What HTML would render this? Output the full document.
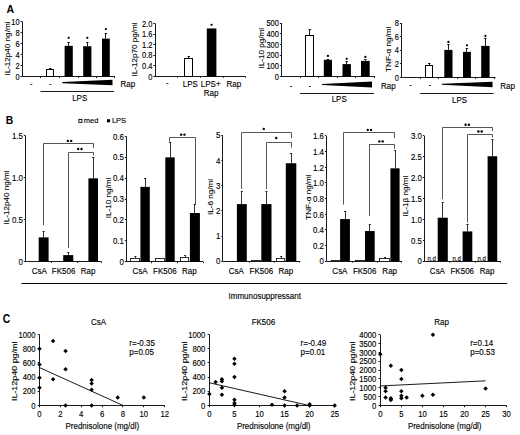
<!DOCTYPE html>
<html><head><meta charset="utf-8"><style>
html,body{margin:0;padding:0;background:#fff;width:520px;height:435px;overflow:hidden}
svg{display:block}
text{font-family:"Liberation Sans",sans-serif;fill:#000;stroke:#000;stroke-width:0.12px}
</style></head><body>
<svg width="520" height="435" viewBox="0 0 520 435">
<rect width="520" height="435" fill="#fff"/>
<text transform="translate(6.50,12.90) scale(1,1.07)" font-size="10.6" text-anchor="start" font-weight="bold"  style="stroke:none">A</text>
<line x1="22.50" y1="21.40" x2="22.50" y2="76.60" stroke="#000" stroke-width="0.9"/>
<line x1="20.60" y1="76.50" x2="22.20" y2="76.50" stroke="#000" stroke-width="0.9"/>
<text transform="translate(19.60,79.71) scale(1,1.16)" font-size="7.5" text-anchor="end" font-weight="normal" >0</text>
<line x1="20.60" y1="65.50" x2="22.20" y2="65.50" stroke="#000" stroke-width="0.9"/>
<text transform="translate(19.60,68.67) scale(1,1.16)" font-size="7.5" text-anchor="end" font-weight="normal" >2</text>
<line x1="20.60" y1="54.50" x2="22.20" y2="54.50" stroke="#000" stroke-width="0.9"/>
<text transform="translate(19.60,57.63) scale(1,1.16)" font-size="7.5" text-anchor="end" font-weight="normal" >4</text>
<line x1="20.60" y1="43.50" x2="22.20" y2="43.50" stroke="#000" stroke-width="0.9"/>
<text transform="translate(19.60,46.59) scale(1,1.16)" font-size="7.5" text-anchor="end" font-weight="normal" >6</text>
<line x1="20.60" y1="32.50" x2="22.20" y2="32.50" stroke="#000" stroke-width="0.9"/>
<text transform="translate(19.60,35.55) scale(1,1.16)" font-size="7.5" text-anchor="end" font-weight="normal" >8</text>
<line x1="20.60" y1="21.50" x2="22.20" y2="21.50" stroke="#000" stroke-width="0.9"/>
<text transform="translate(19.60,24.51) scale(1,1.16)" font-size="7.5" text-anchor="end" font-weight="normal" >10</text>
<line x1="22.20" y1="76.50" x2="115.00" y2="76.50" stroke="#000" stroke-width="0.9"/>
<line x1="40.50" y1="76.60" x2="40.50" y2="78.00" stroke="#000" stroke-width="0.9"/>
<line x1="59.50" y1="76.60" x2="59.50" y2="78.00" stroke="#000" stroke-width="0.9"/>
<line x1="78.50" y1="76.60" x2="78.50" y2="78.00" stroke="#000" stroke-width="0.9"/>
<line x1="96.50" y1="76.60" x2="96.50" y2="78.00" stroke="#000" stroke-width="0.9"/>
<line x1="114.50" y1="76.60" x2="114.50" y2="78.00" stroke="#000" stroke-width="0.9"/>
<text transform="translate(10.20,48.60) scale(1,1.083) rotate(-90)" font-size="7.5" text-anchor="middle" font-weight="normal" >IL-12p40 ng/ml</text>
<line x1="50.50" y1="68.21" x2="50.50" y2="69.42" stroke="#000" stroke-width="0.9"/>
<line x1="49.05" y1="68.50" x2="51.45" y2="68.50" stroke="#000" stroke-width="0.9"/>
<rect x="46.50" y="69.50" width="7.00" height="7.00" fill="#fff" stroke="#000" stroke-width="1.0"/>
<line x1="68.50" y1="42.10" x2="68.50" y2="45.80" stroke="#000" stroke-width="0.9"/>
<line x1="67.50" y1="42.50" x2="69.90" y2="42.50" stroke="#000" stroke-width="0.9"/>
<rect x="64.60" y="45.80" width="8.20" height="30.80" fill="#000" stroke="none" stroke-width="0.9"/>
<circle cx="68.70" cy="37.80" r="1.15" fill="#000"/>
<line x1="87.50" y1="42.10" x2="87.50" y2="46.24" stroke="#000" stroke-width="0.9"/>
<line x1="86.10" y1="42.50" x2="88.50" y2="42.50" stroke="#000" stroke-width="0.9"/>
<rect x="83.20" y="46.24" width="8.20" height="30.36" fill="#000" stroke="none" stroke-width="0.9"/>
<circle cx="87.30" cy="37.80" r="1.15" fill="#000"/>
<line x1="105.50" y1="33.49" x2="105.50" y2="38.62" stroke="#000" stroke-width="0.9"/>
<line x1="104.70" y1="33.50" x2="107.10" y2="33.50" stroke="#000" stroke-width="0.9"/>
<rect x="102.00" y="38.62" width="7.80" height="37.98" fill="#000" stroke="none" stroke-width="0.9"/>
<circle cx="105.90" cy="29.10" r="1.15" fill="#000"/>
<line x1="30.30" y1="84.50" x2="32.30" y2="84.50" stroke="#333" stroke-width="1.0"/>
<line x1="49.40" y1="84.50" x2="51.40" y2="84.50" stroke="#333" stroke-width="1.0"/>
<polygon points="62.4,82.0 112.5,79.8 112.5,85.3 62.4,83.2" fill="#000"/>
<text transform="translate(120.60,87.00) scale(1,1.16)" font-size="8" text-anchor="start" font-weight="normal" >Rap</text>
<line x1="40.50" y1="91.50" x2="114.00" y2="91.50" stroke="#000" stroke-width="0.9"/>
<text transform="translate(79.70,101.10) scale(1,1.16)" font-size="8" text-anchor="middle" font-weight="normal" >LPS</text>
<line x1="155.50" y1="23.40" x2="155.50" y2="76.40" stroke="#000" stroke-width="0.9"/>
<line x1="153.40" y1="76.50" x2="155.00" y2="76.50" stroke="#000" stroke-width="0.9"/>
<text transform="translate(152.40,79.51) scale(1,1.16)" font-size="7.5" text-anchor="end" font-weight="normal" >0</text>
<line x1="153.40" y1="65.50" x2="155.00" y2="65.50" stroke="#000" stroke-width="0.9"/>
<text transform="translate(152.40,68.91) scale(1,1.16)" font-size="7.5" text-anchor="end" font-weight="normal" >0.4</text>
<line x1="153.40" y1="55.50" x2="155.00" y2="55.50" stroke="#000" stroke-width="0.9"/>
<text transform="translate(152.40,58.31) scale(1,1.16)" font-size="7.5" text-anchor="end" font-weight="normal" >0.8</text>
<line x1="153.40" y1="44.50" x2="155.00" y2="44.50" stroke="#000" stroke-width="0.9"/>
<text transform="translate(152.40,47.71) scale(1,1.16)" font-size="7.5" text-anchor="end" font-weight="normal" >1.2</text>
<line x1="153.40" y1="34.50" x2="155.00" y2="34.50" stroke="#000" stroke-width="0.9"/>
<text transform="translate(152.40,37.11) scale(1,1.16)" font-size="7.5" text-anchor="end" font-weight="normal" >1.6</text>
<line x1="153.40" y1="23.50" x2="155.00" y2="23.50" stroke="#000" stroke-width="0.9"/>
<text transform="translate(152.40,26.51) scale(1,1.16)" font-size="7.5" text-anchor="end" font-weight="normal" >2.0</text>
<line x1="155.00" y1="76.50" x2="245.40" y2="76.50" stroke="#000" stroke-width="0.9"/>
<line x1="177.50" y1="76.40" x2="177.50" y2="77.80" stroke="#000" stroke-width="0.9"/>
<line x1="200.50" y1="76.40" x2="200.50" y2="77.80" stroke="#000" stroke-width="0.9"/>
<line x1="223.50" y1="76.40" x2="223.50" y2="77.80" stroke="#000" stroke-width="0.9"/>
<line x1="245.50" y1="76.40" x2="245.50" y2="77.80" stroke="#000" stroke-width="0.9"/>
<text transform="translate(136.60,49.40) scale(1,1.083) rotate(-90)" font-size="7.5" text-anchor="middle" font-weight="normal" >IL-12p70 pg/ml</text>
<line x1="188.50" y1="56.31" x2="188.50" y2="58.30" stroke="#000" stroke-width="0.9"/>
<line x1="187.70" y1="56.50" x2="190.10" y2="56.50" stroke="#000" stroke-width="0.9"/>
<rect x="184.50" y="58.50" width="8.00" height="18.00" fill="#fff" stroke="#000" stroke-width="1.0"/>
<rect x="206.80" y="28.44" width="9.60" height="47.97" fill="#000" stroke="none" stroke-width="0.9"/>
<circle cx="211.60" cy="24.80" r="1.15" fill="#000"/>
<line x1="166.40" y1="83.50" x2="168.40" y2="83.50" stroke="#333" stroke-width="1.0"/>
<text transform="translate(190.40,86.70) scale(1,1.16)" font-size="8" text-anchor="middle" font-weight="normal" >LPS</text>
<text transform="translate(210.70,86.70) scale(1,1.16)" font-size="8" text-anchor="middle" font-weight="normal" >LPS+</text>
<text transform="translate(211.00,96.20) scale(1,1.16)" font-size="8" text-anchor="middle" font-weight="normal" >Rap</text>
<text transform="translate(233.90,86.70) scale(1,1.16)" font-size="8" text-anchor="middle" font-weight="normal" >Rap</text>
<line x1="281.50" y1="23.20" x2="281.50" y2="76.60" stroke="#000" stroke-width="0.9"/>
<line x1="279.90" y1="76.50" x2="281.50" y2="76.50" stroke="#000" stroke-width="0.9"/>
<text transform="translate(278.90,79.71) scale(1,1.16)" font-size="7.5" text-anchor="end" font-weight="normal" >0</text>
<line x1="279.90" y1="65.50" x2="281.50" y2="65.50" stroke="#000" stroke-width="0.9"/>
<text transform="translate(278.90,69.03) scale(1,1.16)" font-size="7.5" text-anchor="end" font-weight="normal" >100</text>
<line x1="279.90" y1="55.50" x2="281.50" y2="55.50" stroke="#000" stroke-width="0.9"/>
<text transform="translate(278.90,58.35) scale(1,1.16)" font-size="7.5" text-anchor="end" font-weight="normal" >200</text>
<line x1="279.90" y1="44.50" x2="281.50" y2="44.50" stroke="#000" stroke-width="0.9"/>
<text transform="translate(278.90,47.67) scale(1,1.16)" font-size="7.5" text-anchor="end" font-weight="normal" >300</text>
<line x1="279.90" y1="33.50" x2="281.50" y2="33.50" stroke="#000" stroke-width="0.9"/>
<text transform="translate(278.90,36.99) scale(1,1.16)" font-size="7.5" text-anchor="end" font-weight="normal" >400</text>
<line x1="279.90" y1="23.50" x2="281.50" y2="23.50" stroke="#000" stroke-width="0.9"/>
<text transform="translate(278.90,26.31) scale(1,1.16)" font-size="7.5" text-anchor="end" font-weight="normal" >500</text>
<line x1="281.50" y1="76.50" x2="375.00" y2="76.50" stroke="#000" stroke-width="0.9"/>
<line x1="300.50" y1="76.60" x2="300.50" y2="78.00" stroke="#000" stroke-width="0.9"/>
<line x1="318.50" y1="76.60" x2="318.50" y2="78.00" stroke="#000" stroke-width="0.9"/>
<line x1="337.50" y1="76.60" x2="337.50" y2="78.00" stroke="#000" stroke-width="0.9"/>
<line x1="355.50" y1="76.60" x2="355.50" y2="78.00" stroke="#000" stroke-width="0.9"/>
<line x1="374.50" y1="76.60" x2="374.50" y2="78.00" stroke="#000" stroke-width="0.9"/>
<text transform="translate(263.60,48.20) scale(1,1.083) rotate(-90)" font-size="7.5" text-anchor="middle" font-weight="normal" >IL-10 pg/ml</text>
<line x1="309.50" y1="29.93" x2="309.50" y2="35.27" stroke="#000" stroke-width="0.9"/>
<line x1="308.55" y1="29.50" x2="310.95" y2="29.50" stroke="#000" stroke-width="0.9"/>
<rect x="305.50" y="35.50" width="8.00" height="41.00" fill="#fff" stroke="#000" stroke-width="1.0"/>
<line x1="327.50" y1="59.08" x2="327.50" y2="59.83" stroke="#000" stroke-width="0.9"/>
<line x1="326.70" y1="59.50" x2="329.10" y2="59.50" stroke="#000" stroke-width="0.9"/>
<rect x="323.80" y="59.83" width="8.20" height="16.77" fill="#000" stroke="none" stroke-width="0.9"/>
<circle cx="327.90" cy="55.90" r="1.15" fill="#000"/>
<line x1="346.50" y1="61.22" x2="346.50" y2="64.10" stroke="#000" stroke-width="0.9"/>
<line x1="345.50" y1="61.50" x2="347.90" y2="61.50" stroke="#000" stroke-width="0.9"/>
<rect x="342.50" y="64.10" width="8.40" height="12.50" fill="#000" stroke="none" stroke-width="0.9"/>
<circle cx="346.70" cy="58.80" r="1.15" fill="#000"/>
<line x1="365.50" y1="59.83" x2="365.50" y2="60.90" stroke="#000" stroke-width="0.9"/>
<line x1="364.15" y1="59.50" x2="366.55" y2="59.50" stroke="#000" stroke-width="0.9"/>
<rect x="361.00" y="60.90" width="8.70" height="15.70" fill="#000" stroke="none" stroke-width="0.9"/>
<circle cx="365.35" cy="56.90" r="1.15" fill="#000"/>
<line x1="290.20" y1="86.50" x2="292.20" y2="86.50" stroke="#333" stroke-width="1.0"/>
<line x1="308.90" y1="86.50" x2="310.90" y2="86.50" stroke="#333" stroke-width="1.0"/>
<polygon points="322,83.9 372,81.5 372,87.6 322,85.0" fill="#000"/>
<text transform="translate(381.00,89.20) scale(1,1.16)" font-size="8" text-anchor="start" font-weight="normal" >Rap</text>
<line x1="300.10" y1="93.50" x2="374.00" y2="93.50" stroke="#000" stroke-width="0.9"/>
<text transform="translate(339.20,102.40) scale(1,1.16)" font-size="8" text-anchor="middle" font-weight="normal" >LPS</text>
<line x1="401.50" y1="23.26" x2="401.50" y2="77.50" stroke="#000" stroke-width="0.9"/>
<line x1="399.90" y1="77.50" x2="401.50" y2="77.50" stroke="#000" stroke-width="0.9"/>
<text transform="translate(398.90,80.61) scale(1,1.16)" font-size="7.5" text-anchor="end" font-weight="normal" >0</text>
<line x1="399.90" y1="63.50" x2="401.50" y2="63.50" stroke="#000" stroke-width="0.9"/>
<text transform="translate(398.90,67.05) scale(1,1.16)" font-size="7.5" text-anchor="end" font-weight="normal" >2</text>
<line x1="399.90" y1="50.50" x2="401.50" y2="50.50" stroke="#000" stroke-width="0.9"/>
<text transform="translate(398.90,53.49) scale(1,1.16)" font-size="7.5" text-anchor="end" font-weight="normal" >4</text>
<line x1="399.90" y1="36.50" x2="401.50" y2="36.50" stroke="#000" stroke-width="0.9"/>
<text transform="translate(398.90,39.93) scale(1,1.16)" font-size="7.5" text-anchor="end" font-weight="normal" >6</text>
<line x1="399.90" y1="23.50" x2="401.50" y2="23.50" stroke="#000" stroke-width="0.9"/>
<text transform="translate(398.90,26.37) scale(1,1.16)" font-size="7.5" text-anchor="end" font-weight="normal" >8</text>
<line x1="401.50" y1="77.50" x2="495.50" y2="77.50" stroke="#000" stroke-width="0.9"/>
<line x1="420.50" y1="77.50" x2="420.50" y2="78.90" stroke="#000" stroke-width="0.9"/>
<line x1="438.50" y1="77.50" x2="438.50" y2="78.90" stroke="#000" stroke-width="0.9"/>
<line x1="457.50" y1="77.50" x2="457.50" y2="78.90" stroke="#000" stroke-width="0.9"/>
<line x1="475.50" y1="77.50" x2="475.50" y2="78.90" stroke="#000" stroke-width="0.9"/>
<line x1="494.50" y1="77.50" x2="494.50" y2="78.90" stroke="#000" stroke-width="0.9"/>
<text transform="translate(391.00,49.30) scale(1,1.083) rotate(-90)" font-size="7.5" text-anchor="middle" font-weight="normal" >TNF-&#945; ng/ml</text>
<line x1="429.50" y1="63.13" x2="429.50" y2="65.02" stroke="#000" stroke-width="0.9"/>
<line x1="428.05" y1="63.50" x2="430.45" y2="63.50" stroke="#000" stroke-width="0.9"/>
<rect x="425.50" y="65.50" width="7.00" height="12.00" fill="#fff" stroke="#000" stroke-width="1.0"/>
<line x1="448.50" y1="44.82" x2="448.50" y2="49.91" stroke="#000" stroke-width="0.9"/>
<line x1="447.20" y1="44.50" x2="449.60" y2="44.50" stroke="#000" stroke-width="0.9"/>
<rect x="444.30" y="49.91" width="8.20" height="27.59" fill="#000" stroke="none" stroke-width="0.9"/>
<circle cx="448.40" cy="42.00" r="1.15" fill="#000"/>
<line x1="466.50" y1="48.01" x2="466.50" y2="51.87" stroke="#000" stroke-width="0.9"/>
<line x1="465.75" y1="48.50" x2="468.15" y2="48.50" stroke="#000" stroke-width="0.9"/>
<rect x="463.00" y="51.87" width="7.90" height="25.63" fill="#000" stroke="none" stroke-width="0.9"/>
<circle cx="466.95" cy="45.30" r="1.15" fill="#000"/>
<line x1="485.50" y1="38.99" x2="485.50" y2="45.91" stroke="#000" stroke-width="0.9"/>
<line x1="484.20" y1="38.50" x2="486.60" y2="38.50" stroke="#000" stroke-width="0.9"/>
<rect x="481.20" y="45.91" width="8.40" height="31.59" fill="#000" stroke="none" stroke-width="0.9"/>
<circle cx="485.40" cy="36.00" r="1.15" fill="#000"/>
<line x1="409.60" y1="85.50" x2="411.60" y2="85.50" stroke="#333" stroke-width="1.0"/>
<line x1="428.90" y1="85.50" x2="430.90" y2="85.50" stroke="#333" stroke-width="1.0"/>
<polygon points="441.8,83.7 492.5,81.8 492.5,87.3 441.8,84.7" fill="#000"/>
<text transform="translate(500.20,89.20) scale(1,1.16)" font-size="8" text-anchor="start" font-weight="normal" >Rap</text>
<line x1="420.20" y1="93.50" x2="493.60" y2="93.50" stroke="#000" stroke-width="0.9"/>
<text transform="translate(459.50,103.10) scale(1,1.16)" font-size="8" text-anchor="middle" font-weight="normal" >LPS</text>
<text transform="translate(5.80,123.90) scale(1,1.08)" font-size="10.4" text-anchor="start" font-weight="bold"  style="stroke:none">B</text>
<rect x="78.90" y="119.40" width="3.00" height="3.00" fill="#fff" stroke="#000" stroke-width="0.9"/>
<text transform="translate(83.80,123.30) scale(1,1.06)" font-size="7.5" text-anchor="start" font-weight="normal" >med</text>
<rect x="107.00" y="119.20" width="3.10" height="3.10" fill="#000" stroke="none" stroke-width="0.9"/>
<text transform="translate(111.90,123.30) scale(1,1.08)" font-size="7.5" text-anchor="start" font-weight="normal" >LPS</text>
<line x1="25.50" y1="135.50" x2="25.50" y2="261.50" stroke="#000" stroke-width="0.9"/>
<line x1="23.80" y1="261.50" x2="25.20" y2="261.50" stroke="#000" stroke-width="0.9"/>
<text transform="translate(22.90,264.78) scale(1,1.16)" font-size="7.9" text-anchor="end" font-weight="normal" >0</text>
<line x1="23.80" y1="219.50" x2="25.20" y2="219.50" stroke="#000" stroke-width="0.9"/>
<text transform="translate(22.90,222.78) scale(1,1.16)" font-size="7.9" text-anchor="end" font-weight="normal" >0.5</text>
<line x1="23.80" y1="177.50" x2="25.20" y2="177.50" stroke="#000" stroke-width="0.9"/>
<text transform="translate(22.90,180.78) scale(1,1.16)" font-size="7.9" text-anchor="end" font-weight="normal" >1.0</text>
<line x1="23.80" y1="135.50" x2="25.20" y2="135.50" stroke="#000" stroke-width="0.9"/>
<text transform="translate(22.90,138.78) scale(1,1.16)" font-size="7.9" text-anchor="end" font-weight="normal" >1.5</text>
<line x1="25.20" y1="261.50" x2="101.20" y2="261.50" stroke="#000" stroke-width="0.9"/>
<line x1="51.50" y1="261.50" x2="51.50" y2="262.90" stroke="#000" stroke-width="0.9"/>
<line x1="77.50" y1="261.50" x2="77.50" y2="262.90" stroke="#000" stroke-width="0.9"/>
<line x1="101.50" y1="261.50" x2="101.50" y2="262.90" stroke="#000" stroke-width="0.9"/>
<text transform="translate(8.60,197.40) scale(1,1.083) rotate(-90)" font-size="7.5" text-anchor="middle" font-weight="normal" >IL-12p40 ng/ml</text>
<line x1="43.50" y1="231.60" x2="43.50" y2="237.39" stroke="#000" stroke-width="0.8"/>
<line x1="42.55" y1="231.50" x2="44.75" y2="231.50" stroke="#000" stroke-width="0.8"/>
<rect x="38.70" y="237.39" width="9.90" height="24.11" fill="#000" stroke="none" stroke-width="0.9"/>
<line x1="68.50" y1="252.43" x2="68.50" y2="255.12" stroke="#000" stroke-width="0.8"/>
<line x1="67.15" y1="252.50" x2="69.35" y2="252.50" stroke="#000" stroke-width="0.8"/>
<rect x="63.20" y="255.12" width="10.10" height="6.38" fill="#000" stroke="none" stroke-width="0.9"/>
<line x1="93.50" y1="157.17" x2="93.50" y2="178.34" stroke="#000" stroke-width="0.8"/>
<line x1="92.10" y1="157.50" x2="94.30" y2="157.50" stroke="#000" stroke-width="0.8"/>
<rect x="88.40" y="178.34" width="9.60" height="83.16" fill="#000" stroke="none" stroke-width="0.9"/>
<text transform="translate(39.20,273.60) scale(1,1.16)" font-size="8" text-anchor="middle" font-weight="normal" >CsA</text>
<text transform="translate(63.60,273.60) scale(1,1.16)" font-size="8" text-anchor="middle" font-weight="normal" >FK506</text>
<text transform="translate(88.00,273.60) scale(1,1.16)" font-size="8" text-anchor="middle" font-weight="normal" >Rap</text>
<polyline points="43.50,225.30 43.50,143.50 93.50,143.50 93.50,148.00" fill="none" stroke="#444" stroke-width="0.9"/>
<circle cx="67.85" cy="140.90" r="1.2" fill="#000"/>
<circle cx="71.15" cy="140.90" r="1.2" fill="#000"/>
<polyline points="68.50,248.00 68.50,152.50 93.50,152.50 93.50,155.40" fill="none" stroke="#444" stroke-width="0.9"/>
<circle cx="78.20" cy="149.00" r="1.2" fill="#000"/>
<circle cx="81.50" cy="149.00" r="1.2" fill="#000"/>
<line x1="126.50" y1="136.22" x2="126.50" y2="261.80" stroke="#000" stroke-width="0.9"/>
<line x1="124.80" y1="261.50" x2="126.20" y2="261.50" stroke="#000" stroke-width="0.9"/>
<text transform="translate(123.90,265.08) scale(1,1.16)" font-size="7.9" text-anchor="end" font-weight="normal" >0</text>
<line x1="124.80" y1="240.50" x2="126.20" y2="240.50" stroke="#000" stroke-width="0.9"/>
<text transform="translate(123.90,244.15) scale(1,1.16)" font-size="7.9" text-anchor="end" font-weight="normal" >0.1</text>
<line x1="124.80" y1="219.50" x2="126.20" y2="219.50" stroke="#000" stroke-width="0.9"/>
<text transform="translate(123.90,223.22) scale(1,1.16)" font-size="7.9" text-anchor="end" font-weight="normal" >0.2</text>
<line x1="124.80" y1="199.50" x2="126.20" y2="199.50" stroke="#000" stroke-width="0.9"/>
<text transform="translate(123.90,202.29) scale(1,1.16)" font-size="7.9" text-anchor="end" font-weight="normal" >0.3</text>
<line x1="124.80" y1="178.50" x2="126.20" y2="178.50" stroke="#000" stroke-width="0.9"/>
<text transform="translate(123.90,181.36) scale(1,1.16)" font-size="7.9" text-anchor="end" font-weight="normal" >0.4</text>
<line x1="124.80" y1="157.50" x2="126.20" y2="157.50" stroke="#000" stroke-width="0.9"/>
<text transform="translate(123.90,160.43) scale(1,1.16)" font-size="7.9" text-anchor="end" font-weight="normal" >0.5</text>
<line x1="124.80" y1="136.50" x2="126.20" y2="136.50" stroke="#000" stroke-width="0.9"/>
<text transform="translate(123.90,139.50) scale(1,1.16)" font-size="7.9" text-anchor="end" font-weight="normal" >0.6</text>
<line x1="126.20" y1="261.50" x2="203.20" y2="261.50" stroke="#000" stroke-width="0.9"/>
<line x1="151.50" y1="261.80" x2="151.50" y2="263.20" stroke="#000" stroke-width="0.9"/>
<line x1="177.50" y1="261.80" x2="177.50" y2="263.20" stroke="#000" stroke-width="0.9"/>
<line x1="203.50" y1="261.80" x2="203.50" y2="263.20" stroke="#000" stroke-width="0.9"/>
<text transform="translate(110.80,198.00) scale(1,1.083) rotate(-90)" font-size="7.5" text-anchor="middle" font-weight="normal" >IL-10 ng/ml</text>
<line x1="135.50" y1="256.57" x2="135.50" y2="258.03" stroke="#000" stroke-width="0.8"/>
<line x1="134.40" y1="256.50" x2="136.40" y2="256.50" stroke="#000" stroke-width="0.8"/>
<rect x="130.50" y="258.50" width="9.00" height="3.00" fill="#fff" stroke="#000" stroke-width="0.8"/>
<line x1="145.50" y1="178.08" x2="145.50" y2="186.87" stroke="#000" stroke-width="0.8"/>
<line x1="144.00" y1="178.50" x2="146.20" y2="178.50" stroke="#000" stroke-width="0.8"/>
<rect x="140.40" y="186.87" width="9.40" height="74.93" fill="#000" stroke="none" stroke-width="0.9"/>
<rect x="155.50" y="258.50" width="9.00" height="3.00" fill="#fff" stroke="#000" stroke-width="0.8"/>
<line x1="170.50" y1="142.50" x2="170.50" y2="157.36" stroke="#000" stroke-width="0.8"/>
<line x1="168.90" y1="142.50" x2="171.10" y2="142.50" stroke="#000" stroke-width="0.8"/>
<rect x="165.30" y="157.36" width="9.40" height="104.44" fill="#000" stroke="none" stroke-width="0.9"/>
<line x1="185.50" y1="255.52" x2="185.50" y2="257.20" stroke="#000" stroke-width="0.8"/>
<line x1="184.00" y1="255.50" x2="186.00" y2="255.50" stroke="#000" stroke-width="0.8"/>
<rect x="180.50" y="257.50" width="8.00" height="4.00" fill="#fff" stroke="#000" stroke-width="0.8"/>
<line x1="194.50" y1="204.03" x2="194.50" y2="213.03" stroke="#000" stroke-width="0.8"/>
<line x1="193.80" y1="204.50" x2="196.00" y2="204.50" stroke="#000" stroke-width="0.8"/>
<rect x="189.90" y="213.03" width="10.00" height="48.77" fill="#000" stroke="none" stroke-width="0.9"/>
<text transform="translate(140.00,273.60) scale(1,1.16)" font-size="8" text-anchor="middle" font-weight="normal" >CsA</text>
<text transform="translate(164.80,273.60) scale(1,1.16)" font-size="8" text-anchor="middle" font-weight="normal" >FK506</text>
<text transform="translate(189.40,273.60) scale(1,1.16)" font-size="8" text-anchor="middle" font-weight="normal" >Rap</text>
<polyline points="169.50,141.70 169.50,137.50 195.50,137.50 195.50,204.40" fill="none" stroke="#444" stroke-width="0.9"/>
<circle cx="181.15" cy="134.65" r="1.2" fill="#000"/>
<circle cx="184.45" cy="134.65" r="1.2" fill="#000"/>
<line x1="222.50" y1="135.20" x2="222.50" y2="261.20" stroke="#000" stroke-width="0.9"/>
<line x1="221.30" y1="261.50" x2="222.70" y2="261.50" stroke="#000" stroke-width="0.9"/>
<text transform="translate(220.40,264.48) scale(1,1.16)" font-size="7.9" text-anchor="end" font-weight="normal" >0</text>
<line x1="221.30" y1="236.50" x2="222.70" y2="236.50" stroke="#000" stroke-width="0.9"/>
<text transform="translate(220.40,239.28) scale(1,1.16)" font-size="7.9" text-anchor="end" font-weight="normal" >1</text>
<line x1="221.30" y1="210.50" x2="222.70" y2="210.50" stroke="#000" stroke-width="0.9"/>
<text transform="translate(220.40,214.08) scale(1,1.16)" font-size="7.9" text-anchor="end" font-weight="normal" >2</text>
<line x1="221.30" y1="185.50" x2="222.70" y2="185.50" stroke="#000" stroke-width="0.9"/>
<text transform="translate(220.40,188.88) scale(1,1.16)" font-size="7.9" text-anchor="end" font-weight="normal" >3</text>
<line x1="221.30" y1="160.50" x2="222.70" y2="160.50" stroke="#000" stroke-width="0.9"/>
<text transform="translate(220.40,163.68) scale(1,1.16)" font-size="7.9" text-anchor="end" font-weight="normal" >4</text>
<line x1="221.30" y1="135.50" x2="222.70" y2="135.50" stroke="#000" stroke-width="0.9"/>
<text transform="translate(220.40,138.48) scale(1,1.16)" font-size="7.9" text-anchor="end" font-weight="normal" >5</text>
<line x1="222.70" y1="261.50" x2="300.20" y2="261.50" stroke="#000" stroke-width="0.9"/>
<line x1="249.50" y1="261.20" x2="249.50" y2="262.60" stroke="#000" stroke-width="0.9"/>
<line x1="274.50" y1="261.20" x2="274.50" y2="262.60" stroke="#000" stroke-width="0.9"/>
<line x1="299.50" y1="261.20" x2="299.50" y2="262.60" stroke="#000" stroke-width="0.9"/>
<text transform="translate(213.00,197.00) scale(1,1.083) rotate(-90)" font-size="7.5" text-anchor="middle" font-weight="normal" >IL-6 ng/ml</text>
<line x1="241.50" y1="191.90" x2="241.50" y2="204.10" stroke="#000" stroke-width="0.8"/>
<line x1="240.75" y1="191.50" x2="242.95" y2="191.50" stroke="#000" stroke-width="0.8"/>
<rect x="236.90" y="204.10" width="9.90" height="57.10" fill="#000" stroke="none" stroke-width="0.9"/>
<rect x="251.50" y="260.50" width="9.00" height="1.00" fill="#fff" stroke="#000" stroke-width="0.8"/>
<line x1="266.50" y1="191.90" x2="266.50" y2="204.10" stroke="#000" stroke-width="0.8"/>
<line x1="265.30" y1="191.50" x2="267.50" y2="191.50" stroke="#000" stroke-width="0.8"/>
<rect x="261.30" y="204.10" width="10.20" height="57.10" fill="#000" stroke="none" stroke-width="0.9"/>
<line x1="281.50" y1="256.16" x2="281.50" y2="258.81" stroke="#000" stroke-width="0.8"/>
<line x1="280.15" y1="256.50" x2="282.15" y2="256.50" stroke="#000" stroke-width="0.8"/>
<rect x="276.50" y="258.50" width="8.00" height="3.00" fill="#fff" stroke="#000" stroke-width="0.8"/>
<line x1="291.50" y1="153.34" x2="291.50" y2="163.25" stroke="#000" stroke-width="0.8"/>
<line x1="289.95" y1="153.50" x2="292.15" y2="153.50" stroke="#000" stroke-width="0.8"/>
<rect x="285.80" y="163.25" width="10.50" height="97.95" fill="#000" stroke="none" stroke-width="0.9"/>
<text transform="translate(236.20,273.60) scale(1,1.16)" font-size="8" text-anchor="middle" font-weight="normal" >CsA</text>
<text transform="translate(261.30,273.60) scale(1,1.16)" font-size="8" text-anchor="middle" font-weight="normal" >FK506</text>
<text transform="translate(285.90,273.60) scale(1,1.16)" font-size="8" text-anchor="middle" font-weight="normal" >Rap</text>
<polyline points="241.50,188.90 241.50,132.50 291.50,132.50 291.50,138.25" fill="none" stroke="#444" stroke-width="0.9"/>
<circle cx="263.75" cy="128.90" r="1.2" fill="#000"/>
<polyline points="266.50,188.90 266.50,142.50 291.50,142.50 291.50,147.60" fill="none" stroke="#444" stroke-width="0.9"/>
<circle cx="276.25" cy="138.00" r="1.2" fill="#000"/>
<line x1="326.50" y1="135.92" x2="326.50" y2="261.20" stroke="#000" stroke-width="0.9"/>
<line x1="324.90" y1="261.50" x2="326.30" y2="261.50" stroke="#000" stroke-width="0.9"/>
<text transform="translate(324.00,264.48) scale(1,1.16)" font-size="7.9" text-anchor="end" font-weight="normal" >0</text>
<line x1="324.90" y1="245.50" x2="326.30" y2="245.50" stroke="#000" stroke-width="0.9"/>
<text transform="translate(324.00,248.82) scale(1,1.16)" font-size="7.9" text-anchor="end" font-weight="normal" >0.2</text>
<line x1="324.90" y1="229.50" x2="326.30" y2="229.50" stroke="#000" stroke-width="0.9"/>
<text transform="translate(324.00,233.16) scale(1,1.16)" font-size="7.9" text-anchor="end" font-weight="normal" >0.4</text>
<line x1="324.90" y1="214.50" x2="326.30" y2="214.50" stroke="#000" stroke-width="0.9"/>
<text transform="translate(324.00,217.50) scale(1,1.16)" font-size="7.9" text-anchor="end" font-weight="normal" >0.6</text>
<line x1="324.90" y1="198.50" x2="326.30" y2="198.50" stroke="#000" stroke-width="0.9"/>
<text transform="translate(324.00,201.84) scale(1,1.16)" font-size="7.9" text-anchor="end" font-weight="normal" >0.8</text>
<line x1="324.90" y1="182.50" x2="326.30" y2="182.50" stroke="#000" stroke-width="0.9"/>
<text transform="translate(324.00,186.18) scale(1,1.16)" font-size="7.9" text-anchor="end" font-weight="normal" >1.0</text>
<line x1="324.90" y1="167.50" x2="326.30" y2="167.50" stroke="#000" stroke-width="0.9"/>
<text transform="translate(324.00,170.52) scale(1,1.16)" font-size="7.9" text-anchor="end" font-weight="normal" >1.2</text>
<line x1="324.90" y1="151.50" x2="326.30" y2="151.50" stroke="#000" stroke-width="0.9"/>
<text transform="translate(324.00,154.86) scale(1,1.16)" font-size="7.9" text-anchor="end" font-weight="normal" >1.4</text>
<line x1="324.90" y1="135.50" x2="326.30" y2="135.50" stroke="#000" stroke-width="0.9"/>
<text transform="translate(324.00,139.20) scale(1,1.16)" font-size="7.9" text-anchor="end" font-weight="normal" >1.6</text>
<line x1="326.30" y1="261.50" x2="402.00" y2="261.50" stroke="#000" stroke-width="0.9"/>
<line x1="352.50" y1="261.20" x2="352.50" y2="262.60" stroke="#000" stroke-width="0.9"/>
<line x1="377.50" y1="261.20" x2="377.50" y2="262.60" stroke="#000" stroke-width="0.9"/>
<line x1="401.50" y1="261.20" x2="401.50" y2="262.60" stroke="#000" stroke-width="0.9"/>
<text transform="translate(311.00,197.10) scale(1,1.083) rotate(-90)" font-size="7.5" text-anchor="middle" font-weight="normal" >TNF-&#945; ng/ml</text>
<rect x="331.50" y="260.50" width="8.00" height="1.00" fill="#fff" stroke="#000" stroke-width="0.8"/>
<line x1="345.50" y1="211.01" x2="345.50" y2="219.07" stroke="#000" stroke-width="0.8"/>
<line x1="343.90" y1="211.50" x2="346.10" y2="211.50" stroke="#000" stroke-width="0.8"/>
<rect x="340.10" y="219.07" width="9.80" height="42.13" fill="#000" stroke="none" stroke-width="0.9"/>
<rect x="355.50" y="260.50" width="9.00" height="1.00" fill="#fff" stroke="#000" stroke-width="0.8"/>
<line x1="369.50" y1="224.56" x2="369.50" y2="231.05" stroke="#000" stroke-width="0.8"/>
<line x1="368.75" y1="224.50" x2="370.95" y2="224.50" stroke="#000" stroke-width="0.8"/>
<rect x="365.00" y="231.05" width="9.70" height="30.15" fill="#000" stroke="none" stroke-width="0.9"/>
<line x1="385.50" y1="257.44" x2="385.50" y2="258.85" stroke="#000" stroke-width="0.8"/>
<line x1="384.00" y1="257.50" x2="386.00" y2="257.50" stroke="#000" stroke-width="0.8"/>
<rect x="379.50" y="258.50" width="10.00" height="3.00" fill="#fff" stroke="#000" stroke-width="0.8"/>
<line x1="395.50" y1="150.95" x2="395.50" y2="168.34" stroke="#000" stroke-width="0.8"/>
<line x1="393.90" y1="150.50" x2="396.10" y2="150.50" stroke="#000" stroke-width="0.8"/>
<rect x="390.40" y="168.34" width="9.20" height="92.86" fill="#000" stroke="none" stroke-width="0.9"/>
<text transform="translate(339.90,273.60) scale(1,1.16)" font-size="8" text-anchor="middle" font-weight="normal" >CsA</text>
<text transform="translate(364.65,273.60) scale(1,1.16)" font-size="8" text-anchor="middle" font-weight="normal" >FK506</text>
<text transform="translate(389.70,273.60) scale(1,1.16)" font-size="8" text-anchor="middle" font-weight="normal" >Rap</text>
<polyline points="343.50,204.60 343.50,132.50 394.50,132.50 394.50,138.25" fill="none" stroke="#444" stroke-width="0.9"/>
<circle cx="367.75" cy="129.90" r="1.2" fill="#000"/>
<circle cx="371.05" cy="129.90" r="1.2" fill="#000"/>
<polyline points="369.50,216.20 369.50,144.50 394.50,144.50 394.50,148.90" fill="none" stroke="#444" stroke-width="0.9"/>
<circle cx="379.35" cy="141.40" r="1.2" fill="#000"/>
<circle cx="382.65" cy="141.40" r="1.2" fill="#000"/>
<line x1="424.50" y1="135.71" x2="424.50" y2="261.20" stroke="#000" stroke-width="0.9"/>
<line x1="422.80" y1="261.50" x2="424.20" y2="261.50" stroke="#000" stroke-width="0.9"/>
<text transform="translate(421.90,264.48) scale(1,1.16)" font-size="7.9" text-anchor="end" font-weight="normal" >0</text>
<line x1="422.80" y1="240.50" x2="424.20" y2="240.50" stroke="#000" stroke-width="0.9"/>
<text transform="translate(421.90,243.57) scale(1,1.16)" font-size="7.9" text-anchor="end" font-weight="normal" >0.5</text>
<line x1="422.80" y1="219.50" x2="424.20" y2="219.50" stroke="#000" stroke-width="0.9"/>
<text transform="translate(421.90,222.65) scale(1,1.16)" font-size="7.9" text-anchor="end" font-weight="normal" >1.0</text>
<line x1="422.80" y1="198.50" x2="424.20" y2="198.50" stroke="#000" stroke-width="0.9"/>
<text transform="translate(421.90,201.74) scale(1,1.16)" font-size="7.9" text-anchor="end" font-weight="normal" >1.5</text>
<line x1="422.80" y1="177.50" x2="424.20" y2="177.50" stroke="#000" stroke-width="0.9"/>
<text transform="translate(421.90,180.82) scale(1,1.16)" font-size="7.9" text-anchor="end" font-weight="normal" >2.0</text>
<line x1="422.80" y1="156.50" x2="424.20" y2="156.50" stroke="#000" stroke-width="0.9"/>
<text transform="translate(421.90,159.91) scale(1,1.16)" font-size="7.9" text-anchor="end" font-weight="normal" >2.5</text>
<line x1="422.80" y1="135.50" x2="424.20" y2="135.50" stroke="#000" stroke-width="0.9"/>
<text transform="translate(421.90,138.99) scale(1,1.16)" font-size="7.9" text-anchor="end" font-weight="normal" >3.0</text>
<line x1="424.20" y1="261.50" x2="500.80" y2="261.50" stroke="#000" stroke-width="0.9"/>
<line x1="449.50" y1="261.20" x2="449.50" y2="262.60" stroke="#000" stroke-width="0.9"/>
<line x1="475.50" y1="261.20" x2="475.50" y2="262.60" stroke="#000" stroke-width="0.9"/>
<line x1="500.50" y1="261.20" x2="500.50" y2="262.60" stroke="#000" stroke-width="0.9"/>
<text transform="translate(408.00,196.10) scale(1,1.083) rotate(-90)" font-size="7.5" text-anchor="middle" font-weight="normal" >IL-1&#946; ng/ml</text>
<line x1="442.50" y1="202.39" x2="442.50" y2="217.70" stroke="#000" stroke-width="0.8"/>
<line x1="441.65" y1="202.50" x2="443.85" y2="202.50" stroke="#000" stroke-width="0.8"/>
<rect x="437.70" y="217.70" width="10.10" height="43.50" fill="#000" stroke="none" stroke-width="0.9"/>
<line x1="467.50" y1="224.18" x2="467.50" y2="231.42" stroke="#000" stroke-width="0.8"/>
<line x1="466.35" y1="224.50" x2="468.55" y2="224.50" stroke="#000" stroke-width="0.8"/>
<rect x="462.60" y="231.42" width="9.70" height="29.78" fill="#000" stroke="none" stroke-width="0.9"/>
<line x1="492.50" y1="139.77" x2="492.50" y2="156.25" stroke="#000" stroke-width="0.8"/>
<line x1="491.30" y1="139.50" x2="493.50" y2="139.50" stroke="#000" stroke-width="0.8"/>
<rect x="487.60" y="156.25" width="9.60" height="104.95" fill="#000" stroke="none" stroke-width="0.9"/>
<text transform="translate(437.40,273.60) scale(1,1.16)" font-size="8" text-anchor="middle" font-weight="normal" >CsA</text>
<text transform="translate(462.25,273.60) scale(1,1.16)" font-size="8" text-anchor="middle" font-weight="normal" >FK506</text>
<text transform="translate(487.15,273.60) scale(1,1.16)" font-size="8" text-anchor="middle" font-weight="normal" >Rap</text>
<polyline points="442.50,199.20 442.50,127.50 492.50,127.50 492.50,131.00" fill="none" stroke="#444" stroke-width="0.9"/>
<circle cx="465.60" cy="124.75" r="1.2" fill="#000"/>
<circle cx="468.90" cy="124.75" r="1.2" fill="#000"/>
<polyline points="467.50,222.60 467.50,134.50 492.50,134.50 492.50,137.50" fill="none" stroke="#444" stroke-width="0.9"/>
<circle cx="478.40" cy="131.50" r="1.2" fill="#000"/>
<circle cx="481.70" cy="131.50" r="1.2" fill="#000"/>
<text transform="translate(431.65,260.90) scale(1,1.16)" font-size="6" text-anchor="middle" font-weight="normal" >n.d</text>
<text transform="translate(456.60,260.90) scale(1,1.16)" font-size="6" text-anchor="middle" font-weight="normal" >n.d</text>
<text transform="translate(481.55,260.90) scale(1,1.16)" font-size="6" text-anchor="middle" font-weight="normal" >n.d</text>
<line x1="21.50" y1="283.50" x2="507.20" y2="283.50" stroke="#000" stroke-width="1.0"/>
<text transform="translate(264.75,298.70) scale(1,1.16)" font-size="8" text-anchor="middle" font-weight="normal" >Immunosuppressant</text>
<text transform="translate(2.80,322.90) scale(1,1.14)" font-size="10.4" text-anchor="start" font-weight="bold"  style="stroke:none">C</text>
<line x1="39.50" y1="334.70" x2="39.50" y2="405.40" stroke="#000" stroke-width="0.9"/>
<line x1="37.70" y1="405.50" x2="39.50" y2="405.50" stroke="#000" stroke-width="0.9"/>
<text transform="translate(35.50,408.60) scale(1,1.16)" font-size="7.7" text-anchor="end" font-weight="normal" >0</text>
<line x1="37.70" y1="391.50" x2="39.50" y2="391.50" stroke="#000" stroke-width="0.9"/>
<text transform="translate(35.50,394.46) scale(1,1.16)" font-size="7.7" text-anchor="end" font-weight="normal" >200</text>
<line x1="37.70" y1="377.50" x2="39.50" y2="377.50" stroke="#000" stroke-width="0.9"/>
<text transform="translate(35.50,380.32) scale(1,1.16)" font-size="7.7" text-anchor="end" font-weight="normal" >400</text>
<line x1="37.70" y1="362.50" x2="39.50" y2="362.50" stroke="#000" stroke-width="0.9"/>
<text transform="translate(35.50,366.18) scale(1,1.16)" font-size="7.7" text-anchor="end" font-weight="normal" >600</text>
<line x1="37.70" y1="348.50" x2="39.50" y2="348.50" stroke="#000" stroke-width="0.9"/>
<text transform="translate(35.50,352.04) scale(1,1.16)" font-size="7.7" text-anchor="end" font-weight="normal" >800</text>
<line x1="37.70" y1="334.50" x2="39.50" y2="334.50" stroke="#000" stroke-width="0.9"/>
<text transform="translate(35.50,337.90) scale(1,1.16)" font-size="7.7" text-anchor="end" font-weight="normal" >1000</text>
<line x1="39.50" y1="405.50" x2="164.70" y2="405.50" stroke="#000" stroke-width="0.9"/>
<line x1="39.50" y1="405.40" x2="39.50" y2="407.20" stroke="#000" stroke-width="0.9"/>
<text transform="translate(39.50,417.40) scale(1,1.16)" font-size="7.7" text-anchor="middle" font-weight="normal" >0</text>
<line x1="60.50" y1="405.40" x2="60.50" y2="407.20" stroke="#000" stroke-width="0.9"/>
<text transform="translate(60.36,417.40) scale(1,1.16)" font-size="7.7" text-anchor="middle" font-weight="normal" >2</text>
<line x1="81.50" y1="405.40" x2="81.50" y2="407.20" stroke="#000" stroke-width="0.9"/>
<text transform="translate(81.22,417.40) scale(1,1.16)" font-size="7.7" text-anchor="middle" font-weight="normal" >4</text>
<line x1="102.50" y1="405.40" x2="102.50" y2="407.20" stroke="#000" stroke-width="0.9"/>
<text transform="translate(102.08,417.40) scale(1,1.16)" font-size="7.7" text-anchor="middle" font-weight="normal" >6</text>
<line x1="122.50" y1="405.40" x2="122.50" y2="407.20" stroke="#000" stroke-width="0.9"/>
<text transform="translate(122.94,417.40) scale(1,1.16)" font-size="7.7" text-anchor="middle" font-weight="normal" >8</text>
<line x1="143.50" y1="405.40" x2="143.50" y2="407.20" stroke="#000" stroke-width="0.9"/>
<text transform="translate(143.80,417.40) scale(1,1.16)" font-size="7.7" text-anchor="middle" font-weight="normal" >10</text>
<line x1="164.50" y1="405.40" x2="164.50" y2="407.20" stroke="#000" stroke-width="0.9"/>
<text transform="translate(164.66,417.40) scale(1,1.16)" font-size="7.7" text-anchor="middle" font-weight="normal" >12</text>
<text transform="translate(98.60,325.00) scale(1,1.16)" font-size="8" text-anchor="middle" font-weight="normal" >CsA</text>
<text transform="translate(129.30,346.10) scale(1,1.16)" font-size="8" text-anchor="start" font-weight="normal" >r=-0.35</text>
<text transform="translate(129.30,354.60) scale(1,1.16)" font-size="8" text-anchor="start" font-weight="normal" >p=0.05</text>
<text transform="translate(102.30,428.90) scale(1,1.1)" font-size="8.0" text-anchor="middle" font-weight="normal" >Prednisolone (mg/dl)</text>
<text transform="translate(16.60,371.30) scale(1,1.115) rotate(-90)" font-size="8.0" text-anchor="middle" font-weight="normal" >IL-12p40 pg/ml</text>
<polygon points="39.50,346.59 41.75,348.84 39.50,351.09 37.25,348.84" fill="#000"/>
<polygon points="39.50,362.14 41.75,364.39 39.50,366.64 37.25,364.39" fill="#000"/>
<polygon points="39.50,375.58 41.75,377.83 39.50,380.08 37.25,377.83" fill="#000"/>
<polygon points="39.50,385.47 41.75,387.72 39.50,389.97 37.25,387.72" fill="#000"/>
<polygon points="53.06,338.81 55.31,341.06 53.06,343.31 50.81,341.06" fill="#000"/>
<polygon points="53.06,376.99 55.31,379.24 53.06,381.49 50.81,379.24" fill="#000"/>
<polygon points="65.58,348.71 67.83,350.96 65.58,353.21 63.33,350.96" fill="#000"/>
<polygon points="65.58,367.09 67.83,369.34 65.58,371.59 63.33,369.34" fill="#000"/>
<polygon points="65.58,403.15 67.83,405.40 65.58,407.65 63.33,405.40" fill="#000"/>
<polygon points="91.65,377.70 93.90,379.95 91.65,382.20 89.40,379.95" fill="#000"/>
<polygon points="91.65,381.23 93.90,383.48 91.65,385.73 89.40,383.48" fill="#000"/>
<polygon points="91.65,387.60 93.90,389.85 91.65,392.10 89.40,389.85" fill="#000"/>
<polygon points="91.65,403.15 93.90,405.40 91.65,407.65 89.40,405.40" fill="#000"/>
<polygon points="117.72,395.37 119.97,397.62 117.72,399.87 115.47,397.62" fill="#000"/>
<polygon points="143.80,395.37 146.05,397.62 143.80,399.87 141.55,397.62" fill="#000"/>
<line x1="39.50" y1="367.58" x2="122.94" y2="405.40" stroke="#000" stroke-width="0.9"/>
<line x1="209.50" y1="334.70" x2="209.50" y2="405.40" stroke="#000" stroke-width="0.9"/>
<line x1="207.60" y1="405.50" x2="209.40" y2="405.50" stroke="#000" stroke-width="0.9"/>
<text transform="translate(205.40,408.60) scale(1,1.16)" font-size="7.7" text-anchor="end" font-weight="normal" >0</text>
<line x1="207.60" y1="391.50" x2="209.40" y2="391.50" stroke="#000" stroke-width="0.9"/>
<text transform="translate(205.40,394.46) scale(1,1.16)" font-size="7.7" text-anchor="end" font-weight="normal" >200</text>
<line x1="207.60" y1="377.50" x2="209.40" y2="377.50" stroke="#000" stroke-width="0.9"/>
<text transform="translate(205.40,380.32) scale(1,1.16)" font-size="7.7" text-anchor="end" font-weight="normal" >400</text>
<line x1="207.60" y1="362.50" x2="209.40" y2="362.50" stroke="#000" stroke-width="0.9"/>
<text transform="translate(205.40,366.18) scale(1,1.16)" font-size="7.7" text-anchor="end" font-weight="normal" >600</text>
<line x1="207.60" y1="348.50" x2="209.40" y2="348.50" stroke="#000" stroke-width="0.9"/>
<text transform="translate(205.40,352.04) scale(1,1.16)" font-size="7.7" text-anchor="end" font-weight="normal" >800</text>
<line x1="207.60" y1="334.50" x2="209.40" y2="334.50" stroke="#000" stroke-width="0.9"/>
<text transform="translate(205.40,337.90) scale(1,1.16)" font-size="7.7" text-anchor="end" font-weight="normal" >1000</text>
<line x1="209.40" y1="405.50" x2="334.60" y2="405.50" stroke="#000" stroke-width="0.9"/>
<line x1="209.50" y1="405.40" x2="209.50" y2="407.20" stroke="#000" stroke-width="0.9"/>
<text transform="translate(209.40,417.40) scale(1,1.16)" font-size="7.7" text-anchor="middle" font-weight="normal" >0</text>
<line x1="234.50" y1="405.40" x2="234.50" y2="407.20" stroke="#000" stroke-width="0.9"/>
<text transform="translate(234.45,417.40) scale(1,1.16)" font-size="7.7" text-anchor="middle" font-weight="normal" >5</text>
<line x1="259.50" y1="405.40" x2="259.50" y2="407.20" stroke="#000" stroke-width="0.9"/>
<text transform="translate(259.50,417.40) scale(1,1.16)" font-size="7.7" text-anchor="middle" font-weight="normal" >10</text>
<line x1="284.50" y1="405.40" x2="284.50" y2="407.20" stroke="#000" stroke-width="0.9"/>
<text transform="translate(284.55,417.40) scale(1,1.16)" font-size="7.7" text-anchor="middle" font-weight="normal" >15</text>
<line x1="309.50" y1="405.40" x2="309.50" y2="407.20" stroke="#000" stroke-width="0.9"/>
<text transform="translate(309.60,417.40) scale(1,1.16)" font-size="7.7" text-anchor="middle" font-weight="normal" >20</text>
<line x1="334.50" y1="405.40" x2="334.50" y2="407.20" stroke="#000" stroke-width="0.9"/>
<text transform="translate(334.65,417.40) scale(1,1.16)" font-size="7.7" text-anchor="middle" font-weight="normal" >25</text>
<text transform="translate(263.40,325.00) scale(1,1.16)" font-size="8" text-anchor="middle" font-weight="normal" >FK506</text>
<text transform="translate(300.60,346.10) scale(1,1.16)" font-size="8" text-anchor="start" font-weight="normal" >r=-0.49</text>
<text transform="translate(300.60,354.60) scale(1,1.16)" font-size="8" text-anchor="start" font-weight="normal" >p=0.01</text>
<text transform="translate(273.70,428.90) scale(1,1.1)" font-size="8.0" text-anchor="middle" font-weight="normal" >Prednisolone (mg/dl)</text>
<text transform="translate(186.60,371.30) scale(1,1.115) rotate(-90)" font-size="8.0" text-anchor="middle" font-weight="normal" >IL-12p40 pg/ml</text>
<polygon points="209.40,391.84 211.65,394.09 209.40,396.34 207.15,394.09" fill="#000"/>
<polygon points="215.66,379.82 217.91,382.07 215.66,384.32 213.41,382.07" fill="#000"/>
<polygon points="221.93,376.99 224.18,379.24 221.93,381.49 219.68,379.24" fill="#000"/>
<polygon points="221.93,379.11 224.18,381.36 221.93,383.61 219.68,381.36" fill="#000"/>
<polygon points="221.93,385.47 224.18,387.72 221.93,389.97 219.68,387.72" fill="#000"/>
<polygon points="221.93,392.54 224.18,394.79 221.93,397.04 219.68,394.79" fill="#000"/>
<polygon points="234.45,356.49 236.70,358.74 234.45,360.99 232.20,358.74" fill="#000"/>
<polygon points="234.45,361.44 236.70,363.69 234.45,365.94 232.20,363.69" fill="#000"/>
<polygon points="234.45,374.87 236.70,377.12 234.45,379.37 232.20,377.12" fill="#000"/>
<polygon points="234.45,397.49 236.70,399.74 234.45,401.99 232.20,399.74" fill="#000"/>
<polygon points="234.45,400.68 236.70,402.93 234.45,405.18 232.20,402.93" fill="#000"/>
<polygon points="234.45,402.80 236.70,405.05 234.45,407.30 232.20,405.05" fill="#000"/>
<polygon points="272.02,402.44 274.27,404.69 272.02,406.94 269.77,404.69" fill="#000"/>
<polygon points="284.55,389.01 286.80,391.26 284.55,393.51 282.30,391.26" fill="#000"/>
<polygon points="284.55,395.37 286.80,397.62 284.55,399.87 282.30,397.62" fill="#000"/>
<polygon points="284.55,403.15 286.80,405.40 284.55,407.65 282.30,405.40" fill="#000"/>
<polygon points="297.07,403.15 299.32,405.40 297.07,407.65 294.82,405.40" fill="#000"/>
<polygon points="309.60,402.09 311.85,404.34 309.60,406.59 307.35,404.34" fill="#000"/>
<polygon points="309.60,403.15 311.85,405.40 309.60,407.65 307.35,405.40" fill="#000"/>
<polygon points="334.65,403.15 336.90,405.40 334.65,407.65 332.40,405.40" fill="#000"/>
<line x1="209.40" y1="382.78" x2="308.60" y2="405.40" stroke="#000" stroke-width="0.9"/>
<line x1="380.50" y1="334.72" x2="380.50" y2="405.40" stroke="#000" stroke-width="0.9"/>
<line x1="378.50" y1="405.50" x2="380.30" y2="405.50" stroke="#000" stroke-width="0.9"/>
<text transform="translate(376.30,408.60) scale(1,1.16)" font-size="7.7" text-anchor="end" font-weight="normal" >0</text>
<line x1="378.50" y1="396.50" x2="380.30" y2="396.50" stroke="#000" stroke-width="0.9"/>
<text transform="translate(376.30,399.76) scale(1,1.16)" font-size="7.7" text-anchor="end" font-weight="normal" >500</text>
<line x1="378.50" y1="387.50" x2="380.30" y2="387.50" stroke="#000" stroke-width="0.9"/>
<text transform="translate(376.30,390.93) scale(1,1.16)" font-size="7.7" text-anchor="end" font-weight="normal" >1000</text>
<line x1="378.50" y1="378.50" x2="380.30" y2="378.50" stroke="#000" stroke-width="0.9"/>
<text transform="translate(376.30,382.09) scale(1,1.16)" font-size="7.7" text-anchor="end" font-weight="normal" >1500</text>
<line x1="378.50" y1="370.50" x2="380.30" y2="370.50" stroke="#000" stroke-width="0.9"/>
<text transform="translate(376.30,373.26) scale(1,1.16)" font-size="7.7" text-anchor="end" font-weight="normal" >2000</text>
<line x1="378.50" y1="361.50" x2="380.30" y2="361.50" stroke="#000" stroke-width="0.9"/>
<text transform="translate(376.30,364.42) scale(1,1.16)" font-size="7.7" text-anchor="end" font-weight="normal" >2500</text>
<line x1="378.50" y1="352.50" x2="380.30" y2="352.50" stroke="#000" stroke-width="0.9"/>
<text transform="translate(376.30,355.59) scale(1,1.16)" font-size="7.7" text-anchor="end" font-weight="normal" >3000</text>
<line x1="378.50" y1="343.50" x2="380.30" y2="343.50" stroke="#000" stroke-width="0.9"/>
<text transform="translate(376.30,346.75) scale(1,1.16)" font-size="7.7" text-anchor="end" font-weight="normal" >3500</text>
<line x1="378.50" y1="334.50" x2="380.30" y2="334.50" stroke="#000" stroke-width="0.9"/>
<text transform="translate(376.30,337.92) scale(1,1.16)" font-size="7.7" text-anchor="end" font-weight="normal" >4000</text>
<line x1="380.30" y1="405.50" x2="506.60" y2="405.50" stroke="#000" stroke-width="0.9"/>
<line x1="380.50" y1="405.40" x2="380.50" y2="407.20" stroke="#000" stroke-width="0.9"/>
<text transform="translate(380.30,417.40) scale(1,1.16)" font-size="7.7" text-anchor="middle" font-weight="normal" >0</text>
<line x1="401.50" y1="405.40" x2="401.50" y2="407.20" stroke="#000" stroke-width="0.9"/>
<text transform="translate(401.35,417.40) scale(1,1.16)" font-size="7.7" text-anchor="middle" font-weight="normal" >5</text>
<line x1="422.50" y1="405.40" x2="422.50" y2="407.20" stroke="#000" stroke-width="0.9"/>
<text transform="translate(422.40,417.40) scale(1,1.16)" font-size="7.7" text-anchor="middle" font-weight="normal" >10</text>
<line x1="443.50" y1="405.40" x2="443.50" y2="407.20" stroke="#000" stroke-width="0.9"/>
<text transform="translate(443.45,417.40) scale(1,1.16)" font-size="7.7" text-anchor="middle" font-weight="normal" >15</text>
<line x1="464.50" y1="405.40" x2="464.50" y2="407.20" stroke="#000" stroke-width="0.9"/>
<text transform="translate(464.50,417.40) scale(1,1.16)" font-size="7.7" text-anchor="middle" font-weight="normal" >20</text>
<line x1="485.50" y1="405.40" x2="485.50" y2="407.20" stroke="#000" stroke-width="0.9"/>
<text transform="translate(485.55,417.40) scale(1,1.16)" font-size="7.7" text-anchor="middle" font-weight="normal" >25</text>
<line x1="506.50" y1="405.40" x2="506.50" y2="407.20" stroke="#000" stroke-width="0.9"/>
<text transform="translate(506.60,417.40) scale(1,1.16)" font-size="7.7" text-anchor="middle" font-weight="normal" >30</text>
<text transform="translate(441.50,325.00) scale(1,1.16)" font-size="8" text-anchor="middle" font-weight="normal" >Rap</text>
<text transform="translate(470.20,346.10) scale(1,1.16)" font-size="8" text-anchor="start" font-weight="normal" >r=0.14</text>
<text transform="translate(470.20,354.60) scale(1,1.16)" font-size="8" text-anchor="start" font-weight="normal" >p=0.53</text>
<text transform="translate(444.70,428.90) scale(1,1.1)" font-size="8.0" text-anchor="middle" font-weight="normal" >Prednisolone (mg/dl)</text>
<text transform="translate(355.00,371.30) scale(1,1.115) rotate(-90)" font-size="8.0" text-anchor="middle" font-weight="normal" >IL-12p40 pg/ml</text>
<polygon points="380.30,351.91 382.55,354.16 380.30,356.41 378.05,354.16" fill="#000"/>
<polygon points="385.56,385.48 387.81,387.73 385.56,389.98 383.31,387.73" fill="#000"/>
<polygon points="385.56,389.01 387.81,391.26 385.56,393.51 383.31,391.26" fill="#000"/>
<polygon points="385.56,395.20 387.81,397.45 385.56,399.70 383.31,397.45" fill="#000"/>
<polygon points="390.82,363.39 393.07,365.64 390.82,367.89 388.57,365.64" fill="#000"/>
<polygon points="390.82,396.08 393.07,398.33 390.82,400.58 388.57,398.33" fill="#000"/>
<polygon points="390.82,396.97 393.07,399.22 390.82,401.47 388.57,399.22" fill="#000"/>
<polygon points="390.82,397.85 393.07,400.10 390.82,402.35 388.57,400.10" fill="#000"/>
<polygon points="401.35,367.81 403.60,370.06 401.35,372.31 399.10,370.06" fill="#000"/>
<polygon points="401.35,376.64 403.60,378.89 401.35,381.14 399.10,378.89" fill="#000"/>
<polygon points="401.35,389.01 403.60,391.26 401.35,393.51 399.10,391.26" fill="#000"/>
<polygon points="401.35,393.43 403.60,395.68 401.35,397.93 399.10,395.68" fill="#000"/>
<polygon points="401.35,396.08 403.60,398.33 401.35,400.58 399.10,398.33" fill="#000"/>
<polygon points="406.61,395.20 408.86,397.45 406.61,399.70 404.36,397.45" fill="#000"/>
<polygon points="422.40,393.43 424.65,395.68 422.40,397.93 420.15,395.68" fill="#000"/>
<polygon points="432.93,332.47 435.18,334.72 432.93,336.97 430.68,334.72" fill="#000"/>
<polygon points="432.93,392.55 435.18,394.80 432.93,397.05 430.68,394.80" fill="#000"/>
<polygon points="485.55,386.36 487.80,388.61 485.55,390.86 483.30,388.61" fill="#000"/>
<line x1="380.30" y1="385.96" x2="485.55" y2="380.84" stroke="#000" stroke-width="0.9"/>
</svg>
</body></html>
